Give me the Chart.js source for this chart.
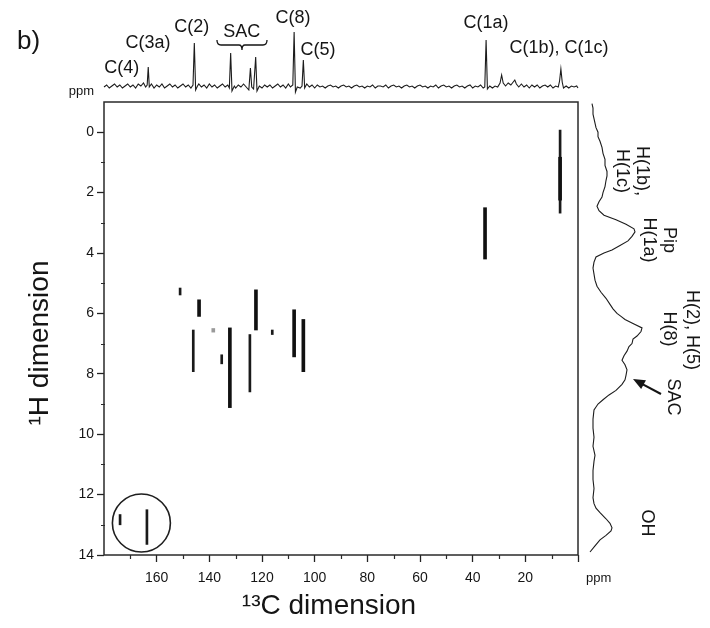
<!DOCTYPE html>
<html>
<head>
<meta charset="utf-8">
<script src="https://cdn.jsdelivr.net/npm/chart.js@4/dist/chart.umd.min.js"></script>
<style>
  html, body { margin: 0; padding: 0; background: #fff; }
  #wrap { position: relative; width: 710px; height: 628px; }
  #wrap canvas { position: absolute; left: 0; top: 0; }
</style>
</head>
<body>
<div id="wrap">
  <canvas id="carbonTrace" width="710" height="628"></canvas>
  <canvas id="protonTrace" width="710" height="628"></canvas>
  <canvas id="hetcor" width="710" height="628"></canvas>
</div>
<script>
// ---- 13C projection (top trace): shift in ppm, intensity in arbitrary units
const carbonShift = [
  180, 179, 178, 177, 176, 175, 174, 173, 172, 171,
  170, 169, 168, 167, 166, 165, 164.2, 163.6, 163.2, 162.8,
  162, 161, 160, 159, 158, 157, 156, 155, 154, 153,
  152, 151, 150, 149, 148, 147, 146.2, 145.7, 145.2, 144.5,
  144, 143, 142, 141, 140, 139, 138, 137, 136, 135,
  134, 133, 132.4, 131.9, 131.4, 130.5, 130, 129, 128, 127,
  126, 125, 124.4, 123.9, 123.2, 122.4, 121.9, 121, 120, 119,
  118, 117, 116, 115, 114, 113, 112, 111, 110, 109.2,
  108.3, 107.8, 107.3, 106.6, 105.5, 104.8, 104.3, 103.8, 103, 102,
  101, 100, 99, 98, 97, 96, 95, 94, 93, 92,
  91, 90, 89, 88, 87, 86, 85, 84, 83, 82,
  81, 80, 79, 78, 77, 76, 75, 74, 73, 72,
  71, 70, 69, 68, 67, 66, 65, 64, 63, 62,
  61, 60, 59, 58, 57, 56, 55, 54, 53, 52,
  51, 50, 49, 48, 47, 46, 45, 44, 43, 42,
  41, 40, 39, 38, 37, 36, 35.4, 34.9, 34.4, 33.5,
  32.5, 31.5, 30.5, 29.6, 29.0, 28.4, 27.5, 26.5, 25.5, 24.6,
  24.0, 23.4, 22.5, 21.5, 20.5, 19.5, 18.5, 17.5, 16.5, 15.5,
  14.5, 13.5, 12.5, 11.5, 10.5, 9.5, 8.5, 7.5, 7.0, 6.5,
  6.0, 5.5, 4.5, 3.5, 2.5, 1.5, 0.5, 0
];
const carbonIntensity = [
  2, 4, 1, 3, 5, 2, 4, 1, 3, 5,
  2, 4, 1, 5, 3, 6, 2, 4, 22, 2,
  5, 1, 4, 2, 5, 1, 3, 5, 2, 4,
  1, 3, 5, 2, 4, 1, 4, 46, -1, 3,
  5, 2, 4, 1, 5, 2, 4, 1, 3, 5,
  2, 4, 1, 36, -2, 3, 1, 4, 2, 5,
  2, -1, 21, 2, 0, 32, -2, 3, 1, 4,
  2, 4, 1, 3, 5, 2, 4, 1, 5, 2,
  4, 57, -3, 2, 1, 3, 29, 1, 5, 2,
  4, 1, 4, 2, 3, 1, 3, 4, 2, 3,
  1, 3, 4, 2, 3, 1, 3, 4, 2, 3,
  1, 3, 2, 4, 1, 3, 3, 2, 4, 1,
  3, 4, 2, 3, 1, 3, 4, 2, 3, 1,
  3, 4, 2, 3, 1, 3, 2, 4, 1, 3,
  4, 2, 3, 1, 3, 4, 2, 3, 1, 3,
  4, 1, 3, 2, 4, 1, 2, 49, 0, 3,
  1, 3, 2, 6, 14, 6, 3, 6, 4, 7,
  9, 5, 2, 5, 2, 4, 1, 4, 2, 4,
  1, 3, 4, 2, 4, 1, 3, 2, 8, 20,
  7, 1, 3, 1, 3, 2, 3, 1
];

// ---- 1H projection (right trace): shift in ppm, intensity in arbitrary units
const protonShift = [
  -0.95, -0.8, -0.6, -0.45, -0.3, -0.15, 0, 0.15, 0.3, 0.5, 0.7, 0.9, 1.1, 1.3, 1.45, 1.6, 1.8, 2.0,
  2.15, 2.3, 2.45, 2.6, 2.75, 2.9, 3.05, 3.2, 3.3, 3.45, 3.6, 3.75, 3.9, 4.0, 4.13, 4.3, 4.5, 4.7,
  4.9, 5.1, 5.3, 5.5, 5.7, 5.85, 6.0, 6.1, 6.2, 6.35, 6.48, 6.6, 6.75, 6.85, 7.0, 7.1, 7.25, 7.4,
  7.55, 7.7, 7.87, 8.05, 8.2, 8.35, 8.55, 8.7, 8.86, 9.0, 9.2, 9.5, 9.8, 10.1, 10.4, 10.7, 10.9,
  11.2, 11.5, 11.8, 12.1, 12.3, 12.45, 12.6, 12.8, 12.95, 13.1, 13.2, 13.35, 13.5, 13.7, 13.9
];
const protonIntensity = [
  0, 1, 1, 2, 3, 4, 6, 6, 8, 10, 11, 13, 13, 15, 15, 14, 13, 11,
  10, 7, 5, 7, 12, 24, 34, 42, 43, 40, 36, 28, 20, 12, 4, 2, 1, 2,
  3, 5, 9, 14, 18, 21, 25, 29, 33, 42, 50, 49, 45, 41, 40, 37, 35, 32,
  30, 33, 35, 34, 33, 30, 24, 17, 11, 6, 2, 1, 1, 2, 1, 3, 2,
  1, 1, 2, 1, 2, 4, 8, 14, 18, 20, 19, 14, 8, 3, -2
];

// ---- 2D cross peaks: 13C shift and the 1H range each contour covers
const strongC    = [143.9, 132.2, 122.3, 107.8, 104.3, 35.3, 6.8];
const strongFrom = [5.55, 6.48, 5.22, 5.88, 6.2, 2.5, 0.83];
const strongTo   = [6.1, 9.12, 6.55, 7.44, 7.93, 4.2, 2.25];
const weakC      = [151.1, 146.1, 135.3, 124.6, 116.1, 6.8, 163.7, 173.9];
const weakFrom   = [5.16, 6.55, 7.37, 6.7, 6.55, -0.07, 12.5, 12.66];
const weakTo     = [5.39, 7.93, 7.67, 8.6, 6.7, 2.68, 13.65, 13.0];
const faintC     = [138.5];
const faintFrom  = [6.5];
const faintTo    = [6.62];
// highlighted OH region
const ringC = [165.8];
const ringH = [12.94];

// ---- axis ticks
const carbonTicks = [20, 40, 60, 80, 100, 120, 140, 160];
const protonTicks = [0, 2, 4, 6, 8, 10, 12, 14];

// ---- peak assignments
const carbonLabels = ['C(4)', 'C(3a)', 'C(2)', 'SAC', 'C(8)', 'C(5)', 'C(1a)', 'C(1b), C(1c)'];
const carbonLabelShift = [173.3, 163.3, 146.7, 127.7, 108.2, 98.7, 34.9, 7.2];
const protonLabels = [['H(1b),', 'H(1c)'], ['Pip', 'H(1a)'], ['H(2), H(5)', 'H(8)'], ['SAC'], ['OH']];

// ---- page geometry (pixels)
const W = 710, H = 628;
const BOX = { left: 104, right: 578, top: 102, bottom: 555 };
const FONT = "'Liberation Sans', Arial, Helvetica, sans-serif";
const INK = '#151515';
const carbonLabelY = [68, 43, 27, 32, 18, 50, 23, 48];
const protonLabelPos = [
  { x: [642, 622], y: 171 },
  { x: [669, 649], y: 240 },
  { x: [692, 669], y: [330, 329] },
  { x: [673], y: 397 },
  { x: [647], y: 523 }
];

function pairs(xs, ys) { return xs.map((v, i) => ({ x: v, y: ys[i] })); }
function spans(cs, a, b) { return cs.map((c, i) => ({ x: c, y: [a[i], b[i]] })); }

// ---------------- main 2D map ----------------
const mapDecor = {
  id: 'mapDecor',
  afterDraw(chart) {
    const { ctx, chartArea: a, scales: { x, y } } = chart;
    ctx.save();
    ctx.strokeStyle = '#2a2a2a';
    ctx.lineWidth = 1.5;
    ctx.strokeRect(a.left, a.top, a.right - a.left, a.bottom - a.top);
    // minor ticks
    ctx.lineWidth = 1.2;
    ctx.beginPath();
    for (let v = 10; v < 180; v += 20) {
      const px = Math.round(x.getPixelForValue(v)) + 0.5;
      ctx.moveTo(px, a.bottom); ctx.lineTo(px, a.bottom + 4);
    }
    for (let v = 1; v < 14; v += 2) {
      const py = Math.round(y.getPixelForValue(v)) + 0.5;
      ctx.moveTo(a.left - 3, py); ctx.lineTo(a.left + 1, py);
    }
    ctx.stroke();
    // axis titles
    ctx.fillStyle = INK;
    ctx.font = '28px ' + FONT;
    ctx.textAlign = 'center';
    ctx.textBaseline = 'alphabetic';
    ctx.fillText('\u00B9\u00B3C dimension', 329, 614);
    ctx.save();
    ctx.translate(48, 343);
    ctx.rotate(-Math.PI / 2);
    ctx.fillText('\u00B9H dimension', 0, 0);
    ctx.restore();
    ctx.font = '13px ' + FONT;
    ctx.textAlign = 'left';
    ctx.textBaseline = 'middle';
    ctx.fillText('ppm', 586, 578);
    ctx.restore();
  }
};

new Chart(document.getElementById('hetcor'), {
  type: 'bar',
  data: {
    datasets: [
      { data: spans(strongC, strongFrom, strongTo), backgroundColor: '#111', barThickness: 3, grouped: false },
      { data: spans(weakC, weakFrom, weakTo), backgroundColor: '#1a1a1a', barThickness: 2, grouped: false },
      { data: spans(faintC, faintFrom, faintTo), backgroundColor: '#9a9a9a', barThickness: 3, grouped: false },
      { type: 'scatter', data: pairs(ringC, ringH), pointRadius: 29, pointBorderWidth: 1.6,
        pointBorderColor: '#1e1e1e', pointBackgroundColor: 'rgba(0,0,0,0)', showLine: false }
    ]
  },
  options: {
    responsive: false,
    animation: false,
    events: [],
    layout: { padding: { left: 0, right: W - BOX.right, top: BOX.top, bottom: 0 } },
    plugins: { legend: { display: false }, tooltip: { enabled: false } },
    scales: {
      x: {
        type: 'linear', reverse: true, min: 0, max: 180, offset: false,
        afterFit(s) { s.height = H - BOX.bottom; },
        border: { display: false },
        grid: {
          drawOnChartArea: false, drawTicks: true, tickLength: 7, offset: false,
          tickWidth: 1.3,
          tickColor: c => (c.tick.value % 20 === 0 && c.tick.value < 180) ? '#222' : 'rgba(0,0,0,0)'
        },
        ticks: {
          stepSize: 10, autoSkip: false, maxRotation: 0, padding: 8, color: INK,
          font: { family: FONT, size: 14 },
          callback: v => carbonTicks.includes(v) ? String(v) : ''
        }
      },
      y: {
        type: 'linear', reverse: true, min: -1, max: 14,
        afterFit(s) { s.width = BOX.left; },
        border: { display: false },
        grid: {
          drawOnChartArea: false, drawTicks: true, tickLength: 7,
          tickWidth: 1.3,
          tickColor: c => protonTicks.includes(c.tick.value) ? '#222' : 'rgba(0,0,0,0)'
        },
        ticks: {
          stepSize: 1, autoSkip: false, padding: 3, color: INK,
          font: { family: FONT, size: 14 },
          callback: v => protonTicks.includes(v) ? String(v) : ''
        }
      }
    }
  },
  plugins: [mapDecor]
});

// ---------------- 13C projection ----------------
const carbonDecor = {
  id: 'carbonDecor',
  afterDraw(chart) {
    const { ctx, scales: { x } } = chart;
    ctx.save();
    ctx.fillStyle = INK;
    ctx.font = '18px ' + FONT;
    ctx.textAlign = 'center';
    ctx.textBaseline = 'middle';
    carbonLabels.forEach((t, i) => ctx.fillText(t, x.getPixelForValue(carbonLabelShift[i]), carbonLabelY[i]));
    // brace grouping the SAC signals
    const l = x.getPixelForValue(137.1), r = x.getPixelForValue(118.1), m = x.getPixelForValue(127.6);
    ctx.strokeStyle = INK;
    ctx.lineWidth = 1.3;
    ctx.beginPath();
    ctx.moveTo(l, 40);
    ctx.quadraticCurveTo(l, 45, l + 4, 45);
    ctx.lineTo(m - 3, 45);
    ctx.quadraticCurveTo(m, 45, m, 50);
    ctx.quadraticCurveTo(m, 45, m + 3, 45);
    ctx.lineTo(r - 4, 45);
    ctx.quadraticCurveTo(r, 45, r, 40);
    ctx.stroke();
    ctx.font = '13px ' + FONT;
    ctx.textAlign = 'right';
    ctx.fillText('ppm', 94, 91);
    ctx.font = '26px ' + FONT;
    ctx.textAlign = 'left';
    ctx.textBaseline = 'alphabetic';
    ctx.fillText('b)', 17, 49);
    ctx.restore();
  }
};

new Chart(document.getElementById('carbonTrace'), {
  type: 'line',
  data: {
    datasets: [{
      data: pairs(carbonShift, carbonIntensity),
      borderColor: '#1c1c1c', borderWidth: 1.1, pointRadius: 0, tension: 0, clip: false
    }]
  },
  options: {
    responsive: false,
    animation: false,
    events: [],
    layout: { padding: { left: BOX.left, right: W - BOX.right, top: 30, bottom: H - 89 } },
    plugins: { legend: { display: false }, tooltip: { enabled: false } },
    scales: {
      x: { type: 'linear', reverse: true, min: 0, max: 180, display: false },
      y: { type: 'linear', min: 0, max: 59, display: false }
    }
  },
  plugins: [carbonDecor]
});

// ---------------- 1H projection ----------------
const protonDecor = {
  id: 'protonDecor',
  afterDraw(chart) {
    const { ctx } = chart;
    ctx.save();
    ctx.fillStyle = INK;
    ctx.font = '18px ' + FONT;
    ctx.textAlign = 'center';
    ctx.textBaseline = 'middle';
    protonLabels.forEach((lines, i) => {
      const p = protonLabelPos[i];
      lines.forEach((t, j) => {
        const yy = Array.isArray(p.y) ? p.y[j] : p.y;
        ctx.save();
        ctx.translate(p.x[j], yy);
        ctx.rotate(Math.PI / 2);
        ctx.fillText(t, 0, 0);
        ctx.restore();
      });
    });
    // arrow pointing at the SAC shoulder
    const tip = { x: 633, y: 379 }, tail = { x: 661, y: 394 };
    const ang = Math.atan2(tip.y - tail.y, tip.x - tail.x);
    ctx.strokeStyle = INK;
    ctx.lineWidth = 2;
    ctx.beginPath();
    ctx.moveTo(tail.x, tail.y);
    ctx.lineTo(tip.x - 8 * Math.cos(ang), tip.y - 8 * Math.sin(ang));
    ctx.stroke();
    ctx.beginPath();
    ctx.moveTo(tip.x, tip.y);
    ctx.lineTo(tip.x - 13 * Math.cos(ang - 0.4), tip.y - 13 * Math.sin(ang - 0.4));
    ctx.lineTo(tip.x - 13 * Math.cos(ang + 0.4), tip.y - 13 * Math.sin(ang + 0.4));
    ctx.closePath();
    ctx.fill();
    ctx.restore();
  }
};

new Chart(document.getElementById('protonTrace'), {
  type: 'line',
  data: {
    datasets: [{
      data: pairs(protonIntensity, protonShift),
      borderColor: '#1c1c1c', borderWidth: 1.1, pointRadius: 0, tension: 0, clip: false
    }]
  },
  options: {
    indexAxis: 'y',
    responsive: false,
    animation: false,
    events: [],
    layout: { padding: { left: 592, right: W - 652, top: BOX.top, bottom: H - BOX.bottom } },
    plugins: { legend: { display: false }, tooltip: { enabled: false } },
    scales: {
      x: { type: 'linear', min: 0, max: 60, display: false },
      y: { type: 'linear', reverse: true, min: -1, max: 14, display: false }
    }
  },
  plugins: [protonDecor]
});
</script>
</body>
</html>
